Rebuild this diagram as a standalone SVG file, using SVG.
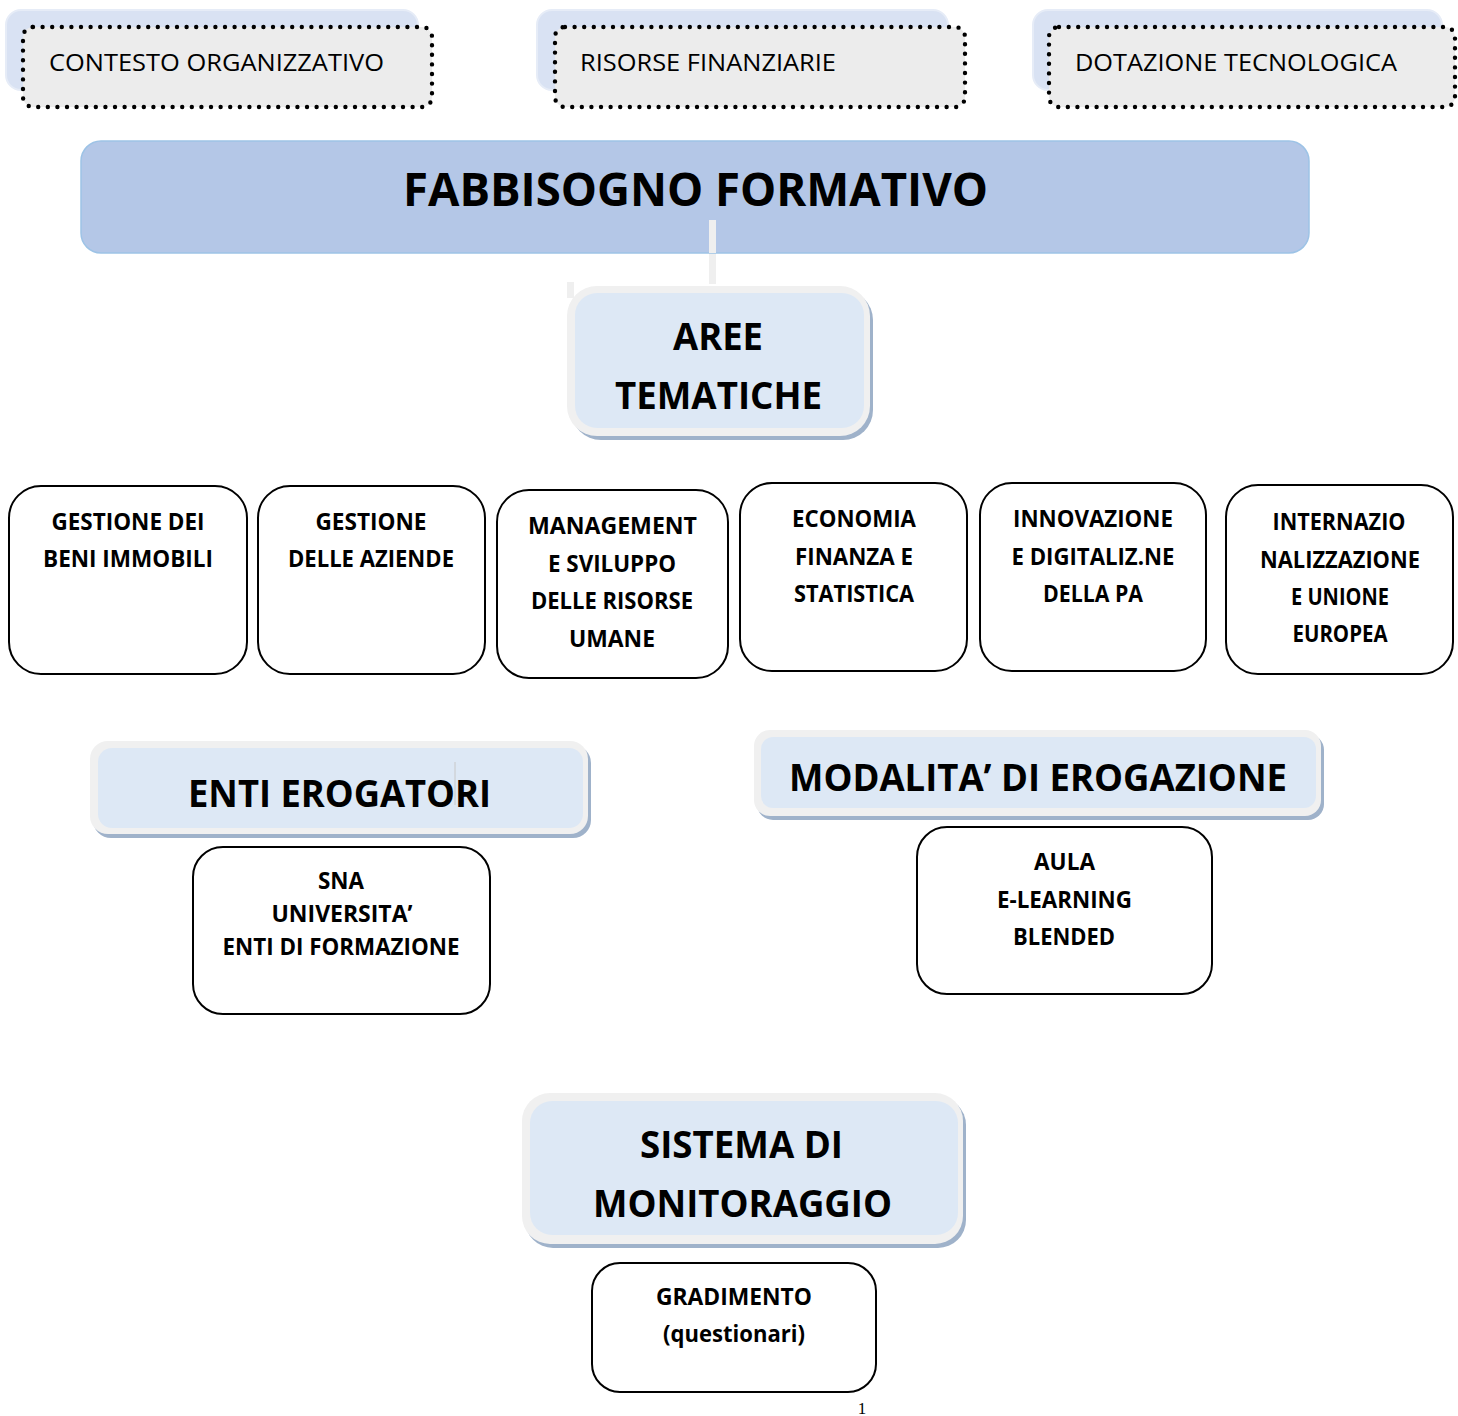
<svg xmlns="http://www.w3.org/2000/svg" width="1458" height="1416" viewBox="0 0 1458 1416">
<style>
.t{font-family:"Open Sans","Noto Sans","DejaVu Sans",sans-serif;fill:#000}
.r{font-size:24px;font-weight:400}
.s{font-size:23px;font-weight:700;text-anchor:middle}
.h{font-size:37px;font-weight:700;text-anchor:middle}
.box{fill:#fff;stroke:#000;stroke-width:2}
.dot{fill:#ececec;stroke:#000;stroke-width:4.4;stroke-dasharray:0 9.6;stroke-linecap:round}
.back{fill:#d9e2f3;stroke:#e6ecf7;stroke-width:2}
.frame{fill:#f0f0f0}
.shadow{fill:#9fb2ca}
.inner{fill:#dde8f5}
.conn{fill:#efefef}
</style>
<rect width="1458" height="1416" fill="#fff"/>

<g id="connectors">
<rect class="conn" x="709" y="220" width="7" height="64"/>
<rect class="conn" x="567" y="282" width="7" height="16"/>
</g>

<g id="contesto">
<rect class="back" x="6" y="10" width="412" height="80" rx="15"/>
<rect class="dot" x="23" y="27" width="409" height="80" rx="10"/>
<text class="t r" x="49" y="71" textLength="335" lengthAdjust="spacingAndGlyphs">CONTESTO ORGANIZZATIVO</text>
</g>
<g id="risorse">
<rect class="back" x="537" y="10" width="411" height="80" rx="15"/>
<rect class="dot" x="555" y="27" width="410" height="80" rx="10"/>
<text class="t r" x="580" y="71" textLength="256" lengthAdjust="spacingAndGlyphs">RISORSE FINANZIARIE</text>
</g>
<g id="dotazione">
<rect class="back" x="1033" y="10" width="409" height="80" rx="15"/>
<rect class="dot" x="1049" y="27" width="406" height="80" rx="10"/>
<text class="t r" x="1075" y="71" textLength="322" lengthAdjust="spacingAndGlyphs">DOTAZIONE TECNOLOGICA</text>
</g>

<g id="fabbisogno">
<rect x="81" y="141" width="1228" height="112" rx="20" fill="#b4c7e7" stroke="#9dc3e6" stroke-width="1.5"/>
<rect class="conn" x="709" y="220" width="7" height="33"/>
<text class="t" x="695.5" y="206" font-size="46" font-weight="700" text-anchor="middle" textLength="585" lengthAdjust="spacingAndGlyphs">FABBISOGNO FORMATIVO</text>
</g>

<g id="aree">
<rect class="shadow" x="571" y="290" width="302" height="150" rx="30"/>
<rect class="frame" x="567" y="286" width="303" height="150" rx="30"/>
<rect class="inner" x="575" y="293" width="289" height="135" rx="22"/>
<text class="t h" x="718" y="350" textLength="90" lengthAdjust="spacingAndGlyphs">AREE</text>
<text class="t h" x="718.5" y="409" textLength="207" lengthAdjust="spacingAndGlyphs">TEMATICHE</text>
</g>

<g id="beni">
<rect class="box" x="9" y="486" width="238" height="188" rx="32"/>
<text class="t s" x="128" y="530" textLength="153" lengthAdjust="spacingAndGlyphs">GESTIONE DEI</text>
<text class="t s" x="128" y="567" textLength="170" lengthAdjust="spacingAndGlyphs">BENI IMMOBILI</text>
</g>
<g id="aziende">
<rect class="box" x="258" y="486" width="227" height="188" rx="32"/>
<text class="t s" x="371" y="530" textLength="111" lengthAdjust="spacingAndGlyphs">GESTIONE</text>
<text class="t s" x="371" y="567" textLength="166" lengthAdjust="spacingAndGlyphs">DELLE AZIENDE</text>
</g>
<g id="management">
<rect class="box" x="497" y="490" width="231" height="188" rx="32"/>
<text class="t s" x="612.5" y="534" textLength="169" lengthAdjust="spacingAndGlyphs">MANAGEMENT</text>
<text class="t s" x="612" y="572" textLength="128" lengthAdjust="spacingAndGlyphs">E SVILUPPO</text>
<text class="t s" x="612" y="609" textLength="162" lengthAdjust="spacingAndGlyphs">DELLE RISORSE</text>
<text class="t s" x="612" y="647" textLength="86" lengthAdjust="spacingAndGlyphs">UMANE</text>
</g>
<g id="economia">
<rect class="box" x="740" y="483" width="227" height="188" rx="32"/>
<text class="t s" x="854" y="527" textLength="124" lengthAdjust="spacingAndGlyphs">ECONOMIA</text>
<text class="t s" x="854" y="565" textLength="118" lengthAdjust="spacingAndGlyphs">FINANZA E</text>
<text class="t s" x="854" y="602" textLength="120" lengthAdjust="spacingAndGlyphs">STATISTICA</text>
</g>
<g id="innovazione">
<rect class="box" x="980" y="483" width="226" height="188" rx="32"/>
<text class="t s" x="1093" y="527" textLength="160" lengthAdjust="spacingAndGlyphs">INNOVAZIONE</text>
<text class="t s" x="1093" y="565" textLength="163" lengthAdjust="spacingAndGlyphs">E DIGITALIZ.NE</text>
<text class="t s" x="1093" y="602" textLength="100" lengthAdjust="spacingAndGlyphs">DELLA PA</text>
</g>
<g id="internazionalizzazione">
<rect class="box" x="1226" y="485" width="227" height="189" rx="32"/>
<text class="t s" x="1339" y="530" textLength="133" lengthAdjust="spacingAndGlyphs">INTERNAZIO</text>
<text class="t s" x="1340" y="568" textLength="160" lengthAdjust="spacingAndGlyphs">NALIZZAZIONE</text>
<text class="t s" x="1340" y="605" textLength="98" lengthAdjust="spacingAndGlyphs">E UNIONE</text>
<text class="t s" x="1340" y="642" textLength="95" lengthAdjust="spacingAndGlyphs">EUROPEA</text>
</g>

<g id="enti">
<rect class="shadow" x="93" y="745" width="498" height="93" rx="18"/>
<rect class="frame" x="90" y="741" width="498" height="93" rx="18"/>
<rect class="inner" x="98" y="748" width="485" height="80" rx="14"/>
<text class="t h" x="339.5" y="807" textLength="303" lengthAdjust="spacingAndGlyphs">ENTI EROGATORI</text>
<line x1="455" y1="762" x2="455" y2="805" stroke="#c8c8c8" stroke-width="1"/>
</g>
<g id="sna">
<rect class="box" x="193" y="847" width="297" height="167" rx="30"/>
<text class="t s" x="341" y="889" textLength="46" lengthAdjust="spacingAndGlyphs">SNA</text>
<text class="t s" x="342" y="922" textLength="141" lengthAdjust="spacingAndGlyphs">UNIVERSITA’</text>
<text class="t s" x="341" y="955" textLength="237" lengthAdjust="spacingAndGlyphs">ENTI DI FORMAZIONE</text>
</g>

<g id="modalita">
<rect class="shadow" x="757" y="734" width="567" height="86" rx="16"/>
<rect class="frame" x="754" y="730" width="567" height="86" rx="16"/>
<rect class="inner" x="761" y="737" width="555" height="71" rx="12"/>
<text class="t h" x="1038" y="791" textLength="498" lengthAdjust="spacingAndGlyphs">MODALITA’ DI EROGAZIONE</text>
</g>
<g id="aula">
<rect class="box" x="917" y="827" width="295" height="167" rx="30"/>
<text class="t s" x="1064.5" y="870" textLength="61" lengthAdjust="spacingAndGlyphs">AULA</text>
<text class="t s" x="1064.5" y="908" textLength="135" lengthAdjust="spacingAndGlyphs">E-LEARNING</text>
<text class="t s" x="1064" y="945" textLength="102" lengthAdjust="spacingAndGlyphs">BLENDED</text>
</g>

<g id="sistema">
<rect class="shadow" x="525" y="1097" width="441" height="151" rx="28"/>
<rect class="frame" x="522" y="1093" width="441" height="151" rx="28"/>
<rect class="inner" x="530" y="1101" width="428" height="134" rx="22"/>
<text class="t h" x="741.5" y="1158" textLength="203" lengthAdjust="spacingAndGlyphs">SISTEMA DI</text>
<text class="t h" x="742.5" y="1217" textLength="299" lengthAdjust="spacingAndGlyphs">MONITORAGGIO</text>
</g>
<g id="gradimento">
<rect class="box" x="592" y="1263" width="284" height="129" rx="28"/>
<text class="t s" x="734" y="1305" textLength="156" lengthAdjust="spacingAndGlyphs">GRADIMENTO</text>
<text class="t s" x="734" y="1342" textLength="142" lengthAdjust="spacingAndGlyphs">(questionari)</text>
</g>

<text x="862" y="1414" font-family="'Liberation Serif',serif" font-size="17" text-anchor="middle" fill="#000">1</text>
</svg>
